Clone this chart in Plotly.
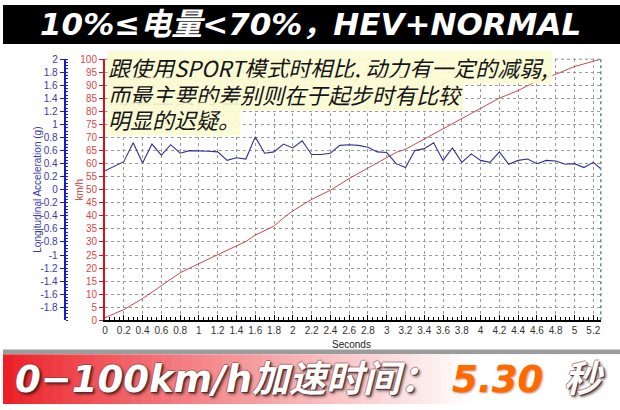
import plotly.graph_objects as go

W, H = 620, 410

# ---------------- data ----------------
accel_time = [0.0, 0.1, 0.2, 0.3, 0.4, 0.5, 0.6, 0.7, 0.8, 0.9,
              1.0, 1.1, 1.2, 1.3, 1.4, 1.5, 1.6, 1.7, 1.8, 1.9,
              2.0, 2.1, 2.2, 2.3, 2.4, 2.5, 2.6, 2.7, 2.8, 2.9,
              3.0, 3.1, 3.2, 3.3, 3.4, 3.5, 3.6, 3.7, 3.8, 3.9,
              4.0, 4.1, 4.2, 4.3, 4.4, 4.5, 4.6, 4.7, 4.8, 4.9,
              5.0, 5.1, 5.2, 5.28]
accel_g = [0.29, 0.36, 0.43, 0.72, 0.41, 0.70, 0.53, 0.69, 0.56, 0.60,
           0.60, 0.59, 0.58, 0.45, 0.49, 0.47, 0.81, 0.56, 0.58, 0.70,
           0.64, 0.75, 0.54, 0.54, 0.56, 0.68, 0.69, 0.68, 0.65, 0.58,
           0.57, 0.40, 0.34, 0.60, 0.63, 0.72, 0.45, 0.64, 0.42, 0.55,
           0.45, 0.42, 0.58, 0.39, 0.45, 0.47, 0.40, 0.45, 0.44, 0.39,
           0.40, 0.34, 0.42, 0.32]

speed_time = [0.0, 0.2, 0.4, 0.6, 0.8, 1.0, 1.2, 1.4, 1.5, 1.6,
              1.8, 1.9, 2.0, 2.2, 2.4, 2.6, 2.8, 3.0, 3.1, 3.2,
              3.4, 3.6, 3.8, 4.0, 4.2, 4.4, 4.6, 4.8, 5.0, 5.28]
speed_kmh = [1.0, 4.1, 8.3, 13.1, 18.2, 21.7, 25.2, 28.4, 30.2, 32.6,
             36.1, 39.2, 41.9, 46.3, 49.8, 54.3, 58.3, 62.2, 64.3, 65.5,
             69.4, 73.3, 77.2, 81.0, 85.1, 88.0, 91.7, 94.2, 97.2, 100.0]

accel_ticks = [-1.8, -1.6, -1.4, -1.2, -1.0, -0.8, -0.6, -0.4, -0.2, 0.0,
               0.2, 0.4, 0.6, 0.8, 1.0, 1.2, 1.4, 1.6, 1.8, 2.0]
accel_tick_labels = ["-1.8", "-1.6", "-1.4", "-1.2", "-1", "-0.8", "-0.6", "-0.4", "-0.2", "0",
                     "0.2", "0.4", "0.6", "0.8", "1", "1.2", "1.4", "1.6", "1.8", "2"]

title_text = "10%≤电量<70%，HEV+NORMAL"
note_lines = ["跟使用SPORT模式时相比, 动力有一定的减弱, ",
              "而最主要的差别则在于起步时有比较",
              "明显的迟疑。"]
banner_label = "0−100km/h加速时间："
banner_value = "5.30"
banner_unit = "秒"

# ---------------- helpers ----------------
def fx(p):
    return p / W

def fy(p):
    return 1 - p / H

RED = "#cc3333"
LATIN_CJK = "DejaVu Sans, Noto Sans CJK SC"

fig = go.Figure()

fig.add_trace(go.Scatter(x=speed_time, y=speed_kmh, mode="lines",
                         line=dict(color="#c84a4a", width=1), yaxis="y",
                         showlegend=False, hoverinfo="skip"))
fig.add_trace(go.Scatter(x=accel_time, y=accel_g, mode="lines",
                         line=dict(color="#2e2e98", width=1.1), yaxis="y2",
                         showlegend=False, hoverinfo="skip"))

shapes = []
# top black band
shapes.append(dict(type="rect", xref="paper", yref="paper", x0=0, x1=1,
                   y0=fy(40), y1=1, fillcolor="black", line=dict(width=0), layer="above"))
# separator above banner
shapes.append(dict(type="rect", xref="paper", yref="paper", x0=0, x1=1,
                   y0=fy(359), y1=fy(354), fillcolor="#9c9c9c", line=dict(width=0), layer="above"))
# banner gradient
N = 62
for i in range(N):
    x0 = i * W / N
    x1 = (i + 1) * W / N + 0.5
    t = min(1.0, (x0 + x1) / 2 / 470.0)
    t = t ** 0.9
    r = int(236 + (255 - 236) * t)
    g = int(30 + (255 - 30) * t)
    b = int(36 + (255 - 36) * t)
    shapes.append(dict(type="rect", xref="paper", yref="paper", x0=fx(x0), x1=fx(x1),
                       y0=0, y1=fy(359), fillcolor=f"rgb({r},{g},{b})",
                       line=dict(width=0), layer="above"))
# plot top border / right border dashed
shapes.append(dict(type="line", xref="x domain", yref="y domain", x0=0, x1=1, y0=1, y1=1,
                   line=dict(color="#8a8a8a", width=1, dash="3px,3px")))
shapes.append(dict(type="line", xref="x domain", yref="y domain", x0=1, x1=1, y0=0, y1=1,
                   line=dict(color="#5f8f8f", width=1.5, dash="3px,3px")))

annotations = []
annotations.append(dict(text=title_text, xref="paper", yref="paper", x=fx(309), y=fy(20),
                        xanchor="center", yanchor="middle", showarrow=False,
                        font=dict(family=LATIN_CJK, size=31, color="white",
                                  weight="bold", style="italic")))
note_y = [64, 91, 117.5]
for line, yy in zip(note_lines, note_y):
    annotations.append(dict(text=line, xref="paper", yref="paper", x=fx(105), y=fy(yy),
                            xanchor="left", yanchor="middle", showarrow=False,
                            bgcolor="rgba(251,251,210,0.92)", borderpad=0,
                            font=dict(family="Noto Sans CJK SC", size=22, color="#151515",
                                      style="italic")))
annotations.append(dict(text="Longitudinal Acceleration (g)", xref="paper", yref="paper",
                        x=fx(35), y=fy(190), textangle=-90, showarrow=False,
                        xanchor="center", yanchor="middle",
                        font=dict(family="Liberation Sans, Arial", size=10, color="#3a3aa8")))
annotations.append(dict(text="km/h", xref="paper", yref="paper",
                        x=fx(77), y=fy(190), textangle=-90, showarrow=False,
                        xanchor="center", yanchor="middle",
                        font=dict(family="Liberation Sans, Arial", size=10, color=RED)))
annotations.append(dict(text="Seconds", xref="paper", yref="paper",
                        x=fx(350), y=fy(349), showarrow=False,
                        xanchor="center", yanchor="middle",
                        font=dict(family="Liberation Sans, Arial", size=10, color="#222")))
shadow = ("1px 1px 0 rgba(90,40,40,0.9), -1px 0 0 rgba(120,60,60,0.55), "
          "0 -1px 0 rgba(120,60,60,0.55), 2px 2px 3px rgba(0,0,0,0.65)")
annotations.append(dict(text=banner_label, xref="paper", yref="paper",
                        x=fx(10), y=fy(385), showarrow=False,
                        xanchor="left", yanchor="middle",
                        font=dict(family=LATIN_CJK, size=37, color="white",
                                  weight="bold", style="italic", shadow=shadow)))
annotations.append(dict(text=banner_value, xref="paper", yref="paper",
                        x=fx(449), y=fy(385), showarrow=False,
                        xanchor="left", yanchor="middle",
                        font=dict(family=LATIN_CJK, size=37, color="#ff6a00",
                                  weight="bold", style="italic",
                                  shadow="1px 1px 2px rgba(120,40,0,0.5)")))
annotations.append(dict(text=banner_unit, xref="paper", yref="paper",
                        x=fx(562), y=fy(385), showarrow=False,
                        xanchor="left", yanchor="middle",
                        font=dict(family=LATIN_CJK, size=37, color="white",
                                  weight="bold", style="italic", shadow=shadow)))

tickfont = dict(family="Liberation Sans, Arial", size=10)

fig.update_layout(
    width=W, height=H,
    margin=dict(l=0, r=0, t=0, b=0),
    paper_bgcolor="white", plot_bgcolor="white",
    showlegend=False,
    shapes=shapes,
    annotations=annotations,
    xaxis=dict(domain=[fx(102.5), fx(600.7)], range=[0, 5.28],
               tick0=0, dtick=0.2, showgrid=True, gridcolor="#9a9a9a",
               griddash="3px,3px", gridwidth=1, zeroline=False,
               showline=True, linecolor="black", linewidth=2,
               ticks="inside", ticklen=5, tickcolor="black",
               minor=dict(dtick=0.05, ticks="inside", ticklen=3, tickcolor="black"),
               tickfont=dict(tickfont, color="#333"), anchor="y", fixedrange=True),
    yaxis=dict(domain=[fy(324), fy(55.7)], range=[0, 100], tick0=0, dtick=5,
               showgrid=True, gridcolor="#9a9a9a", griddash="3px,3px", gridwidth=1,
               zeroline=False, showline=True, linecolor="#dd1111", linewidth=2,
               ticks="outside", ticklen=4, tickcolor="#dd1111",
               tickfont=dict(tickfont, color="#d84848"), anchor="x", side="left",
               fixedrange=True),
    yaxis2=dict(overlaying="y", anchor="free", position=fx(62), side="left",
                range=[-2, 2], tickvals=accel_ticks, ticktext=accel_tick_labels,
                showgrid=False, zeroline=False, showline=True, linecolor="#1a1acc",
                linewidth=2, ticks="outside", ticklen=4, tickcolor="#1a1acc",
                minor=dict(dtick=0.05, ticks="inside", ticklen=2, tickcolor="#1a1acc"),
                tickfont=dict(tickfont, color="#3a3aa8"), fixedrange=True),
)

fig.write_html("out.html",
               config={"displayModeBar": False, "staticPlot": True},
               post_script="document.body.style.margin='0';document.body.style.overflow='hidden';")
